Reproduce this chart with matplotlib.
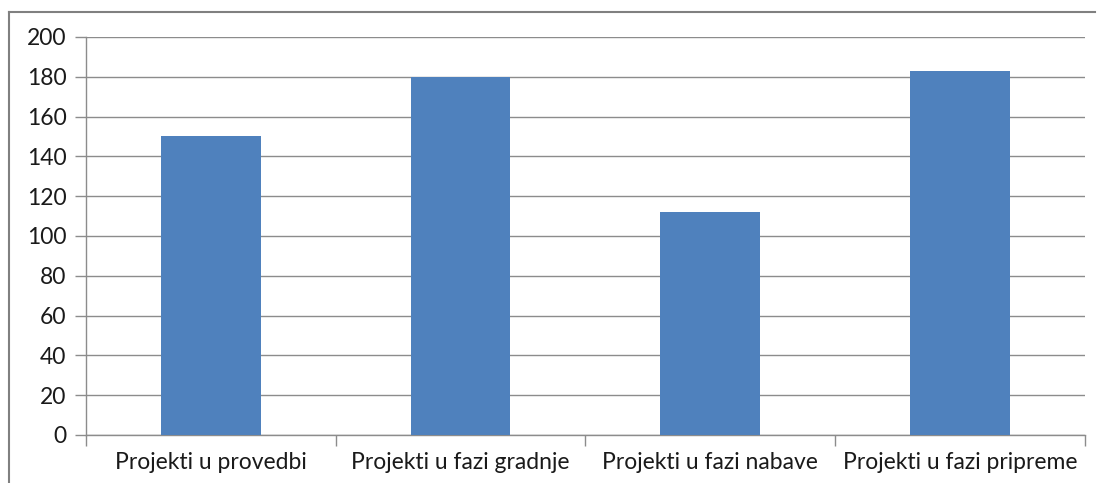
import matplotlib.pyplot as plt
from matplotlib.lines import Line2D
import numpy as np

categories = ['Projekti u provedbi', 'Projekti u fazi gradnje',
              'Projekti u fazi nabave', 'Projekti u fazi pripreme']
values = [150, 180, 112, 183]
yticks = [0, 20, 40, 60, 80, 100, 120, 140, 160, 180, 200]

plt.rcParams['font.family'] = ['Lato', 'DejaVu Sans']
grid_col = '#8c8c8c'

fig = plt.figure(figsize=(10.98, 4.83), dpi=100)
ax = fig.add_axes([0.0783, 0.0994, 0.9097, 0.824])

x = np.arange(len(categories))
ax.bar(x, values, width=0.4, color='#4f81bd', zorder=3)

ax.set_xlim(-0.5, len(categories) - 0.5)
ax.set_ylim(0, 200)
ax.set_yticks(yticks)
ax.yaxis.grid(True, color=grid_col, linewidth=1, zorder=0)

# category labels centred, ticks on the boundaries
ax.set_xticks(x)
ax.set_xticklabels(categories, fontsize=16.5, color='#1a1a1a')
ax.set_xticks(np.arange(len(categories) + 1) - 0.5, minor=True)
ax.tick_params(axis='x', which='major', length=0, pad=12)
ax.tick_params(axis='x', which='minor', length=8, color=grid_col, width=1)
ax.tick_params(axis='y', length=8, color=grid_col, width=1, labelsize=16.5,
               labelcolor='#1a1a1a', pad=6)

for side in ['top', 'right']:
    ax.spines[side].set_visible(False)
for side in ['left', 'bottom']:
    ax.spines[side].set_color(grid_col)
    ax.spines[side].set_linewidth(1)

# outer chart frame (only top and left edges are visible)
W, H = 1098, 483
frame = dict(transform=fig.transFigure, color='#808080', linewidth=1.5)
fig.add_artist(Line2D([9 / W, 1095 / W], [1 - 12 / H, 1 - 12 / H], **frame))
fig.add_artist(Line2D([9 / W, 9 / W], [0, 1 - 12 / H], **frame))

fig.savefig('out.png', dpi=100)
